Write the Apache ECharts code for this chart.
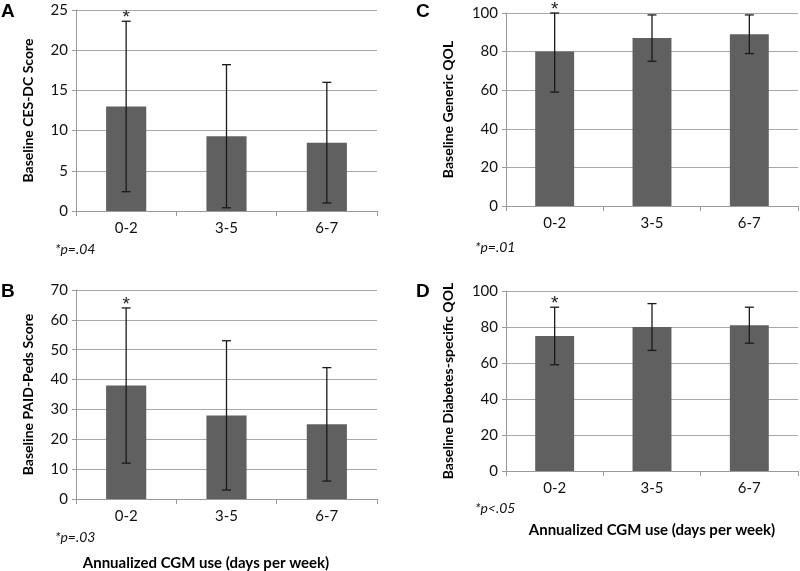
<!DOCTYPE html>
<html>
<head>
<meta charset="utf-8">
<script src="https://cdn.jsdelivr.net/npm/echarts@6/dist/echarts.min.js"></script>
<style>html,body{margin:0;padding:0;background:#fff}#c{width:800px;height:571px}</style>
</head>
<body>
<div id="c"></div>
<script>
const categories = ['0-2', '3-5', '6-7'];

const cesMean = [13, 9.3, 8.5];
const cesLow = [2.4, 0.4, 1.0];
const cesHigh = [23.6, 18.2, 16];

const paidMean = [38, 28, 25];
const paidLow = [12, 3, 6];
const paidHigh = [64, 53, 44];

const genMean = [80, 87, 89];
const genLow = [59, 75, 79];
const genHigh = [100, 99, 99];

const diabMean = [75, 80, 81];
const diabLow = [59, 67, 71];
const diabHigh = [91, 93, 91];

const significant = [1, 0, 0];

const yTitles = ['Baseline CES-DC Score', 'Baseline PAID-Peds Score', 'Baseline Generic QOL', 'Baseline Diabetes-specific QOL'];
const yMax = [25, 70, 100, 100];
const yInterval = [5, 10, 20, 20];
const pNotes = ['*p=.04', '*p=.03', '*p=.01', '*p<.05'];
const panelLetters = ['A', 'B', 'C', 'D'];
const xTitle = 'Annualized CGM use (days per week)';

const FONT = 'Lato, "Open Sans", sans-serif';
const grids = [
  {left: 76, top: 10, width: 301, height: 201},
  {left: 76, top: 290, width: 301, height: 209},
  {left: 506, top: 13, width: 292, height: 193},
  {left: 506, top: 291, width: 292, height: 180}
];
const nameGaps = [41, 41, 51, 51];
const means = [cesMean, paidMean, genMean, diabMean];
const lows = [cesLow, paidLow, genLow, diabLow];
const highs = [cesHigh, paidHigh, genHigh, diabHigh];

const chart = echarts.init(document.getElementById('c'), null, {renderer: 'canvas'});

const xAxis = [], yAxis = [], series = [];
for (let i = 0; i < 4; i++) {
  xAxis.push({
    type: 'category', gridIndex: i, data: categories,
    axisLine: {lineStyle: {color: '#9a9a9a', width: 1}},
    axisTick: {show: true, length: 5, lineStyle: {color: '#9a9a9a'}},
    axisLabel: {color: '#111', fontSize: 15, fontFamily: FONT, margin: 10}
  });
  yAxis.push({
    type: 'value', gridIndex: i, min: 0, max: yMax[i], interval: yInterval[i],
    name: yTitles[i], nameLocation: 'middle', nameGap: nameGaps[i],
    nameTextStyle: {color: '#000', fontSize: 14, fontWeight: 'bold', fontFamily: FONT},
    axisLine: {show: true, lineStyle: {color: '#9a9a9a', width: 1}},
    axisTick: {show: true, length: 4, lineStyle: {color: '#9a9a9a'}},
    axisLabel: {color: '#111', fontSize: 15, fontFamily: FONT, margin: 8},
    splitLine: {show: true, lineStyle: {color: '#a8a8a8', width: 1}}
  });
  series.push({
    type: 'bar', xAxisIndex: i, yAxisIndex: i, data: means[i], barWidth: '40%',
    itemStyle: {color: '#606060'}, silent: true, animation: false
  });
  series.push({
    type: 'custom', xAxisIndex: i, yAxisIndex: i, animation: false, silent: true, clip: false, z: 5,
    data: categories.map((c, k) => [k, lows[i][k], highs[i][k], significant[k]]),
    renderItem: function (params, api) {
      const x = api.value(0), lo = api.value(1), hi = api.value(2), star = api.value(3);
      const pLo = api.coord([x, lo]), pHi = api.coord([x, hi]);
      const w = 4.5;
      const st = {stroke: '#1a1a1a', lineWidth: 1.3};
      const ch = [
        {type: 'line', shape: {x1: pLo[0], y1: pLo[1], x2: pHi[0], y2: pHi[1]}, style: st},
        {type: 'line', shape: {x1: pLo[0] - w, y1: pLo[1], x2: pLo[0] + w, y2: pLo[1]}, style: st},
        {type: 'line', shape: {x1: pHi[0] - w, y1: pHi[1], x2: pHi[0] + w, y2: pHi[1]}, style: st}
      ];
      if (star) {
        ch.push({type: 'text', style: {text: '*', x: pHi[0], y: pHi[1] - 3.5, textAlign: 'center', textVerticalAlign: 'middle', fontSize: 19, fontFamily: 'Liberation Sans, sans-serif', fill: '#1a1a1a'}});
      }
      return {type: 'group', children: ch};
    }
  });
}

const graphic = [];
const letterPos = [[1, 2], [1, 282], [416, 2], [416, 282]];
const notePos = [[55, 250], [55, 538], [475, 248], [475, 509]];
for (let i = 0; i < 4; i++) {
  graphic.push({type: 'text', left: letterPos[i][0], top: letterPos[i][1],
    style: {text: panelLetters[i], fontSize: 19, fontWeight: 'bold', fontFamily: 'Liberation Sans, Arial, sans-serif', fill: '#000'}});
  graphic.push({type: 'text', left: notePos[i][0], top: notePos[i][1] - 8,
    style: {text: pNotes[i], fontSize: 14, fontStyle: 'italic', fontFamily: FONT, fill: '#111'}});
}
graphic.push({type: 'text', x: 206, y: 563, style: {text: xTitle, textAlign: 'center', textVerticalAlign: 'middle', fontSize: 15, fontWeight: 'bold', fontFamily: FONT, fill: '#000'}});
graphic.push({type: 'text', x: 652, y: 530, style: {text: xTitle, textAlign: 'center', textVerticalAlign: 'middle', fontSize: 15, fontWeight: 'bold', fontFamily: FONT, fill: '#000'}});

chart.setOption({
  animation: false,
  backgroundColor: '#fff',
  grid: grids.map(g => Object.assign({containLabel: false}, g)),
  xAxis: xAxis,
  yAxis: yAxis,
  series: series,
  graphic: graphic
});
</script>
</body>
</html>
